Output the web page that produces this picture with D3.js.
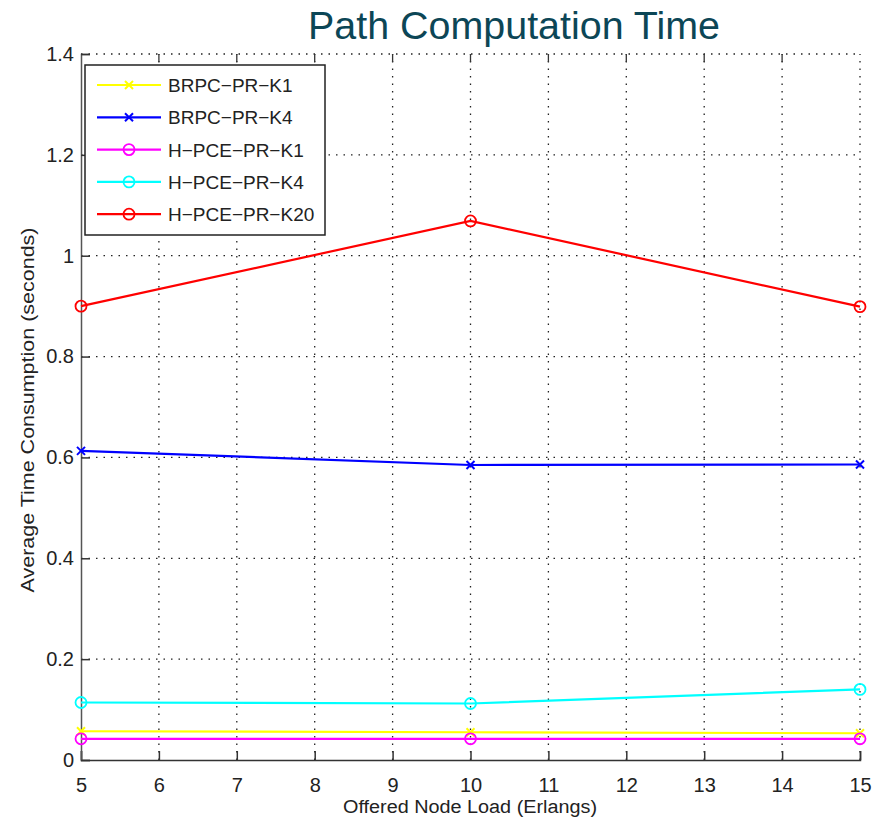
<!DOCTYPE html>
<html>
<head>
<meta charset="utf-8">
<script src="https://cdn.jsdelivr.net/npm/d3@7"></script>
<style>
  html, body { margin: 0; padding: 0; background: #fff; }
  svg { display: block; }
  text { font-family: "Liberation Sans", Arial, sans-serif; }
</style>
</head>
<body>
<svg id="chart" width="881" height="819"></svg>
<script>
const title = "Path Computation Time";
const xLabel = "Offered Node Load (Erlangs)";
const yLabel = "Average Time Consumption (seconds)";
const loads = [5, 10, 15];
const xTicks = [5, 6, 7, 8, 9, 10, 11, 12, 13, 14, 15];
const yTicks = [0, 0.2, 0.4, 0.6, 0.8, 1, 1.2, 1.4];
const yTickLabels = ["0", "0.2", "0.4", "0.6", "0.8", "1", "1.2", "1.4"];
const seriesNames = ["BRPC\u2212PR\u2212K1", "BRPC\u2212PR\u2212K4", "H\u2212PCE\u2212PR\u2212K1", "H\u2212PCE\u2212PR\u2212K4", "H\u2212PCE\u2212PR\u2212K20"];
const seriesColors = ["#ffff00", "#0000ff", "#ff00ff", "#00ffff", "#ff0000"];
const seriesMarkers = ["x", "x", "o", "o", "o"];
const brpcK1 = [0.057, 0.055, 0.053];
const brpcK4 = [0.613, 0.585, 0.586];
const hpceK1 = [0.042, 0.042, 0.042];
const hpceK4 = [0.114, 0.112, 0.140];
const hpceK20 = [0.900, 1.069, 0.899];
const seriesValues = [brpcK1, brpcK4, hpceK1, hpceK4, hpceK20];

const svg = d3.select("#chart");
const L = 81, R = 860, T = 54, B = 760;
const x = d3.scaleLinear().domain([5, 15]).range([L, R]);
const y = d3.scaleLinear().domain([0, 1.4]).range([B, T]);

// title
svg.append("text").attr("x", 308).attr("y", 39)
  .attr("font-family", "'Open Sans', sans-serif")
  .attr("font-size", 38).attr("fill", "#0c4656")
  .attr("textLength", 412).attr("lengthAdjust", "spacingAndGlyphs")
  .text(title);

// grid
const grid = svg.append("g").attr("stroke", "#222").attr("stroke-width", 1.3)
  .attr("stroke-dasharray", "1.5,6");
grid.selectAll(".gx").data(xTicks.slice(1)).join("line")
  .attr("x1", d => x(d)).attr("x2", d => x(d)).attr("y1", B).attr("y2", T);
grid.selectAll(".gy").data(yTicks.slice(1)).join("line")
  .attr("y1", d => y(d)).attr("y2", d => y(d)).attr("x1", L).attr("x2", R);

// axes
const xAxis = d3.axisBottom(x).tickValues(xTicks).tickSize(-9).tickPadding(18).tickFormat(d3.format("d"));
const gx = svg.append("g").attr("transform", `translate(0,${B})`).call(xAxis);
gx.select(".domain").attr("stroke", "#333").attr("stroke-width", 1.5);
gx.selectAll(".tick line").attr("stroke", "#333").attr("stroke-width", 1.5);
gx.selectAll(".tick text").attr("font-size", 20).attr("fill", "#222")
  .attr("font-family", "'Liberation Sans', Arial, sans-serif");

const yAxis = d3.axisLeft(y).tickValues(yTicks).tickSize(-9).tickPadding(7)
  .tickFormat((d, i) => yTickLabels[i]);
const gy = svg.append("g").attr("transform", `translate(${L},0)`).call(yAxis);
gy.select(".domain").attr("stroke", "#555").attr("stroke-width", 1.5);
gy.selectAll(".tick line").attr("stroke", "#333").attr("stroke-width", 1.5);
gy.selectAll(".tick text").attr("font-size", 20).attr("fill", "#222")
  .attr("font-family", "'Liberation Sans', Arial, sans-serif");

// top ticks
svg.append("g").selectAll("line").data(xTicks.slice(1, -1)).join("line")
  .attr("x1", d => x(d)).attr("x2", d => x(d)).attr("y1", T).attr("y2", T + 8)
  .attr("stroke", "#333").attr("stroke-width", 1.3);

// axis labels
svg.append("text").attr("x", 470).attr("y", 813).attr("text-anchor", "middle")
  .attr("font-size", 18).attr("fill", "#222")
  .attr("textLength", 254).attr("lengthAdjust", "spacingAndGlyphs").text(xLabel);
svg.append("text").attr("transform", "translate(34,410) rotate(-90)")
  .attr("text-anchor", "middle").attr("font-size", 19).attr("fill", "#222")
  .attr("textLength", 365).attr("lengthAdjust", "spacingAndGlyphs").text(yLabel);

// series
const line = d3.line().x((d, i) => x(loads[i])).y(d => y(d));
function drawMarker(g, type, color, cx, cy) {
  if (type === "o") {
    g.append("circle").attr("cx", cx).attr("cy", cy).attr("r", 5.5)
      .attr("fill", "none").attr("stroke", color).attr("stroke-width", 1.8);
  } else {
    const s = 4;
    g.append("path").attr("d", `M${cx - s},${cy - s}L${cx + s},${cy + s}M${cx - s},${cy + s}L${cx + s},${cy - s}`)
      .attr("stroke", color).attr("stroke-width", 2);
  }
}
const drawOrder = [4, 1, 3, 0, 2];
drawOrder.forEach(k => {
  const g = svg.append("g");
  g.append("path").datum(seriesValues[k]).attr("d", line)
    .attr("fill", "none").attr("stroke", seriesColors[k]).attr("stroke-width", 2.2);
  seriesValues[k].forEach((v, i) => drawMarker(g, seriesMarkers[k], seriesColors[k], x(loads[i]), y(v)));
});

// legend
const lg = svg.append("g");
lg.append("rect").attr("x", 85).attr("y", 65).attr("width", 240).attr("height", 170)
  .attr("fill", "#fff").attr("stroke", "#222").attr("stroke-width", 1.5);
seriesNames.forEach((name, k) => {
  const yy = 85 + k * 32.3;
  lg.append("line").attr("x1", 97).attr("x2", 161).attr("y1", yy).attr("y2", yy)
    .attr("stroke", seriesColors[k]).attr("stroke-width", 2.2);
  drawMarker(lg, seriesMarkers[k], seriesColors[k], 129, yy);
  lg.append("text").attr("x", 168).attr("y", yy + 7).attr("font-size", 19)
    .attr("fill", "#222").text(name);
});
</script>
</body>
</html>
